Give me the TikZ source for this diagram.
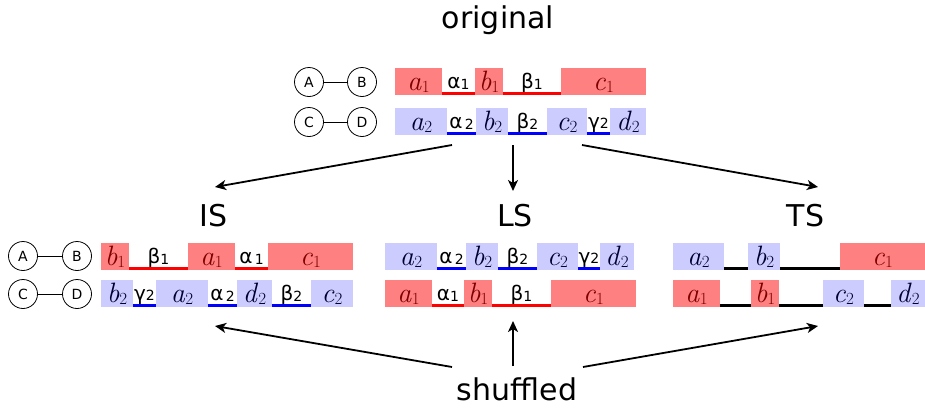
\documentclass[tikz,border=0pt]{standalone}
\usepackage[no-math]{fontspec}
\newfontfamily\dv{DejaVu Sans}
\usetikzlibrary{arrows.meta}
\tikzset{
  segbase/.style={inner sep=0pt, minimum height=27pt, text height=18.4pt, text depth=0pt, font=\fontsize{28}{28}\selectfont},
  redseg/.style={segbase, fill=red!50, text=red!50!black},
  blueseg/.style={segbase, fill=blue!20, text=blue!20!black},
  gaplab/.style={inner sep=0pt, minimum height=27pt, text height=13pt, text depth=0pt, font=\dv\fontsize{20}{20}\selectfont},
  circ/.style={circle, draw, line width=0.8pt, minimum size=29pt, inner sep=0pt, font=\dv\fontsize{14}{14}\selectfont},
  title/.style={anchor=base, font=\dv\fontsize{30}{30}\selectfont},
  arr/.style={line width=1.8pt, -{Stealth[length=11pt, width=10pt, inset=3pt]}},
}
\newcommand\seg[6]{\node[#5, minimum width={(#3-#2)*1pt}] (#1) at ({(#2+#3)/2},{#4+13.5}) {#6};}
\newcommand\gap[6]{\node[gaplab, minimum width={(#3-#2)*1pt}] (#1) at ({(#2+#3)/2},{#4+13.5}) {#6};
  \draw[#5, line width=3pt] ([yshift=1.5pt]#1.south west) -- ([yshift=1.5pt]#1.south east);}
\newcommand\gk[2]{#1\raisebox{-1.5pt}{\fontsize{14}{14}\selectfont #2}}
\newcommand\gy{γ{\fontsize{14}{14}\selectfont 2}}
\newcommand\iv[2]{\textit{#1}\raisebox{-2pt}{\fontsize{17}{17}\selectfont #2}}
\begin{document}
\begin{tikzpicture}[x=1pt, y=-1pt]
\useasboundingbox (0,0) rectangle (925,410);
% titles
\node[title] (orig) at (498,28) {original};
\node[title] (IS) at (213.5,226) {IS};
\node[title] (LS) at (515,226) {LS};
\node[title] (TS) at (805.5,226) {TS};
\node[title] (shuf) at (517,400) {shuffled};
% original circles
\node[circ] (oA) at (309,82) {A};
\node[circ] (oB) at (362,82) {B};
\node[circ] (oC) at (309,122) {C};
\node[circ] (oD) at (362,122) {D};
\draw[line width=0.8pt] (oA) -- (oB);
\draw[line width=0.8pt] (oC) -- (oD);
% original red row
\seg{oa1}{395}{442}{68}{redseg}{\iv{a}{1}}
\gap{oal1}{442}{475}{68}{red}{\gk{α}{1}}
\seg{ob1}{475}{503}{68}{redseg}{\iv{b}{1}}
\gap{obe1}{503}{561}{68}{red}{\gk{β}{1}}
\seg{oc1}{561}{646}{68}{redseg}{\iv{c}{1}}
% original blue row
\seg{oa2}{395}{447}{108}{blueseg}{\iv{a}{2}}
\gap{oal2}{447}{476}{108}{blue}{\gk{α}{\,2}}
\seg{ob2}{476}{508}{108}{blueseg}{\iv{b}{2}}
\gap{obe2}{508}{547}{108}{blue}{\gk{β}{2}}
\seg{oc2}{547}{587}{108}{blueseg}{\iv{c}{2}}
\gap{oga2}{587}{610}{108}{blue}{\gy}
\seg{od2}{610}{646}{108}{blueseg}{\iv{d}{2}}
% IS circles
\node[circ] (iA) at (23,256) {A};
\node[circ] (iB) at (77,256) {B};
\node[circ] (iC) at (23,294) {C};
\node[circ] (iD) at (77,294) {D};
\draw[line width=0.8pt] (iA) -- (iB);
\draw[line width=0.8pt] (iC) -- (iD);
% IS red row
\seg{ib1}{101}{129}{243}{redseg}{\iv{b}{1}}
\gap{ibe1}{129}{188}{243}{red}{\gk{β}{1}}
\seg{ia1}{188}{235}{243}{redseg}{\iv{a}{1}}
\gap{ial1}{235}{268}{243}{red}{\gk{α}{\,1}}
\seg{ic1}{268}{353}{243}{redseg}{\iv{c}{1}}
% IS blue row
\seg{ib2}{101}{133}{280}{blueseg}{\iv{b}{2}}
\gap{iga2}{133}{156}{280}{blue}{\gy}
\seg{ia2}{156}{208}{280}{blueseg}{\iv{a}{2}}
\gap{ial2}{208}{237}{280}{blue}{\gk{α}{\,2}}
\seg{id2}{237}{272}{280}{blueseg}{\iv{d}{2}}
\gap{ibe2}{272}{311}{280}{blue}{\gk{β}{2}}
\seg{ic2}{311}{353}{280}{blueseg}{\iv{c}{2}}
% LS blue row
\seg{la2}{385}{437}{243}{blueseg}{\iv{a}{2}}
\gap{lal2}{437}{466}{243}{blue}{\gk{α}{\,2}}
\seg{lb2}{466}{498}{243}{blueseg}{\iv{b}{2}}
\gap{lbe2}{498}{537}{243}{blue}{\gk{β}{2}}
\seg{lc2}{537}{578}{243}{blueseg}{\iv{c}{2}}
\gap{lga2}{578}{600}{243}{blue}{\gy}
\seg{ld2}{600}{634}{243}{blueseg}{\iv{d}{2}}
% LS red row
\seg{la1}{385}{432}{280}{redseg}{\iv{a}{1}}
\gap{lal1}{432}{464}{280}{red}{\gk{α}{1}}
\seg{lb1}{464}{492}{280}{redseg}{\iv{b}{1}}
\gap{lbe1}{492}{551}{280}{red}{\gk{β}{1}}
\seg{lc1}{551}{636}{280}{redseg}{\iv{c}{1}}
% TS row 1
\seg{ta2}{673}{724}{243}{blueseg}{\iv{a}{2}}
\gap{tg1}{724}{748}{243}{black}{}
\seg{tb2}{748}{780}{243}{blueseg}{\iv{b}{2}}
\gap{tg2}{780}{840}{243}{black}{}
\seg{tc1}{840}{925}{243}{redseg}{\iv{c}{1}}
% TS row 2
\seg{ta1}{673}{720}{280}{redseg}{\iv{a}{1}}
\gap{tg3}{720}{751}{280}{black}{}
\seg{tb1}{751}{779}{280}{redseg}{\iv{b}{1}}
\gap{tg4}{779}{823}{280}{black}{}
\seg{tc2}{823}{864}{280}{blueseg}{\iv{c}{2}}
\gap{tg5}{864}{891}{280}{black}{}
\seg{td2}{891}{925}{280}{blueseg}{\iv{d}{2}}
% arrows
\coordinate (s1) at (452,145);
\coordinate (s2) at (513,145);
\coordinate (s3) at (582,145);
\coordinate (e1) at (215,187);
\coordinate (e2) at (513,191);
\coordinate (e3) at (818,187);
\draw[arr] (s1) -- (e1);
\draw[arr] (s2) -- (e2);
\draw[arr] (s3) -- (e3);
\coordinate (u1) at (452,367);
\coordinate (u2) at (513,366);
\coordinate (u3) at (583,367);
\coordinate (f1) at (215,326);
\coordinate (f2) at (513,321);
\coordinate (f3) at (818,326);
\draw[arr] (u1) -- (f1);
\draw[arr] (u2) -- (f2);
\draw[arr] (u3) -- (f3);
\end{tikzpicture}
\end{document}
